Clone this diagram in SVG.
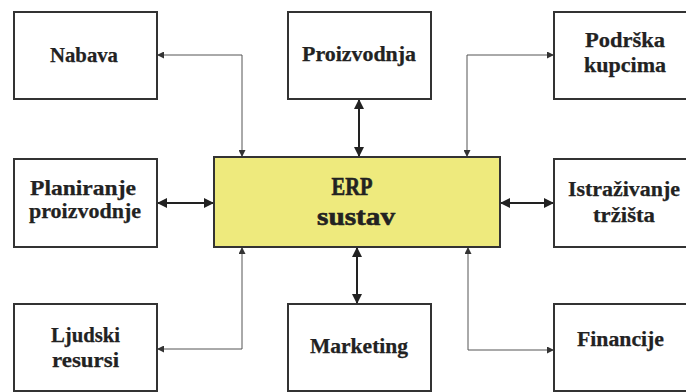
<svg xmlns="http://www.w3.org/2000/svg" width="686" height="392" viewBox="0 0 686 392">
<defs>
<style>
.box{fill:#fff;stroke:#333;stroke-width:2}
.erp{fill:#EEEA7D;stroke:#333;stroke-width:2}
.t{font-family:"Liberation Serif","Times New Roman",serif;font-weight:bold;font-size:21px;fill:#222;text-anchor:middle;stroke:#222;stroke-width:0.25}
.big{font-size:26px;stroke-width:0.6}
.thick{fill:none;stroke:#222;stroke-width:2;marker-start:url(#hb);marker-end:url(#hb)}
.thin{fill:none;stroke:#555;stroke-width:1;marker-start:url(#hs);marker-end:url(#hs)}
</style>
<marker id="hb" markerUnits="userSpaceOnUse" markerWidth="10" markerHeight="10" refX="9" refY="4.5" orient="auto-start-reverse" viewBox="0 0 9 9"><path d="M0,0 L9,4.5 L0,9 z" fill="#222"/></marker>
<marker id="hs" markerUnits="userSpaceOnUse" markerWidth="7" markerHeight="7" refX="6" refY="3" orient="auto-start-reverse" viewBox="0 0 6 6"><path d="M0,0 L6,3 L0,6 z" fill="#333"/></marker>
</defs>
<rect width="686" height="392" fill="#fff"/>
<g id="connectors">
<path class="thin" d="M242,157 V55 H157"/>
<path class="thin" d="M467,157 V55 H554"/>
<path class="thin" d="M242,247 V349 H157"/>
<path class="thin" d="M468,247 V350 H554"/>
<path class="thick" d="M359,99 V157"/>
<path class="thick" d="M357,247 V304"/>
<path class="thick" d="M157,203 H214"/>
<path class="thick" d="M500,203 H554"/>
</g>
<g id="erp">
<rect class="erp" x="214" y="157" width="286" height="90"/>
<text class="t big" x="352" y="195" textLength="41" lengthAdjust="spacingAndGlyphs">ERP</text>
<text class="t big" x="356" y="225" textLength="78" lengthAdjust="spacingAndGlyphs">sustav</text>
</g>
<g id="nabava">
<rect class="box" x="14" y="12" width="143" height="87"/>
<text class="t" x="84" y="62" textLength="68" lengthAdjust="spacingAndGlyphs">Nabava</text>
</g>
<g id="proizvodnja">
<rect class="box" x="288" y="12" width="143" height="87"/>
<text class="t" x="359" y="61" textLength="114" lengthAdjust="spacingAndGlyphs">Proizvodnja</text>
</g>
<g id="podrska">
<rect class="box" x="554" y="12" width="143" height="87"/>
<text class="t" x="625" y="47" textLength="80" lengthAdjust="spacingAndGlyphs">Podrška</text>
<text class="t" x="625" y="72" textLength="82" lengthAdjust="spacingAndGlyphs">kupcima</text>
</g>
<g id="planiranje">
<rect class="box" x="14" y="159" width="143" height="88"/>
<text class="t" x="83" y="195" textLength="106" lengthAdjust="spacingAndGlyphs">Planiranje</text>
<text class="t" x="85" y="218" textLength="112" lengthAdjust="spacingAndGlyphs">proizvodnje</text>
</g>
<g id="istrazivanje">
<rect class="box" x="554" y="159" width="143" height="88"/>
<text class="t" x="624" y="196" textLength="112" lengthAdjust="spacingAndGlyphs">Istraživanje</text>
<text class="t" x="624" y="222" textLength="62" lengthAdjust="spacingAndGlyphs">tržišta</text>
</g>
<g id="ljudski">
<rect class="box" x="14" y="304" width="143" height="87"/>
<text class="t" x="85.5" y="342" textLength="69" lengthAdjust="spacingAndGlyphs">Ljudski</text>
<text class="t" x="85.5" y="367" textLength="67" lengthAdjust="spacingAndGlyphs">resursi</text>
</g>
<g id="marketing">
<rect class="box" x="288" y="304" width="143" height="87"/>
<text class="t" x="359" y="353" textLength="98" lengthAdjust="spacingAndGlyphs">Marketing</text>
</g>
<g id="financije">
<rect class="box" x="554" y="304" width="143" height="87"/>
<text class="t" x="620.5" y="346" textLength="87" lengthAdjust="spacingAndGlyphs">Financije</text>
</g>
</svg>
